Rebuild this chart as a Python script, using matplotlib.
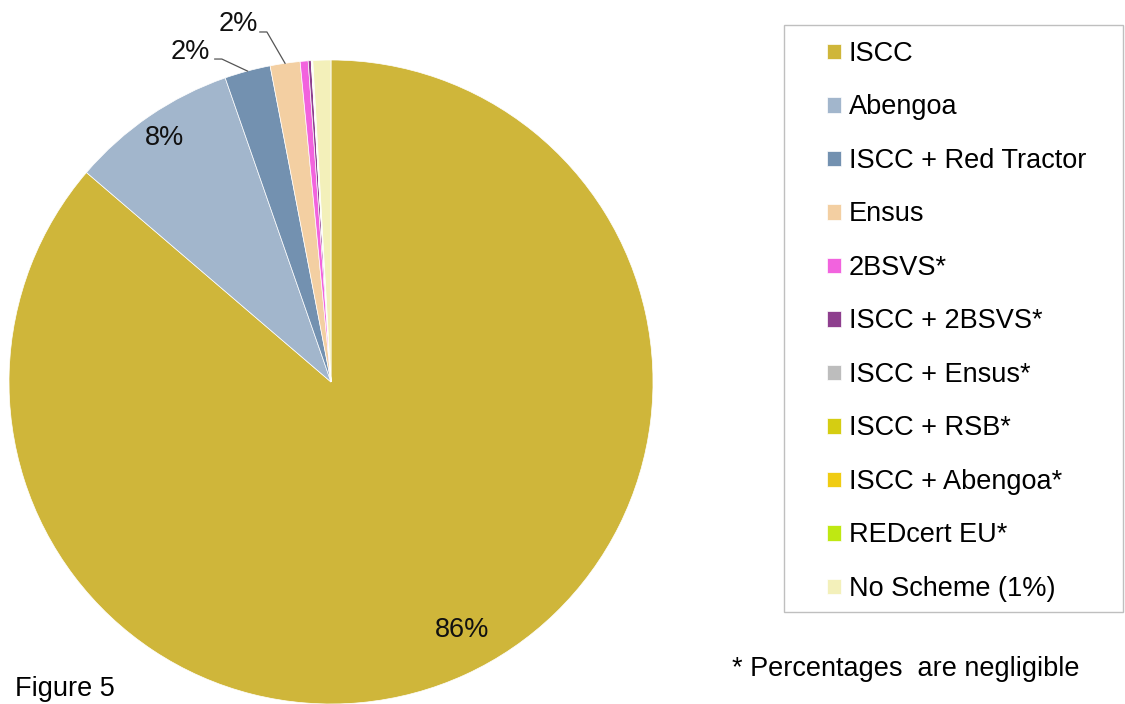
import numpy as np
import matplotlib
matplotlib.use('Agg')
import matplotlib.pyplot as plt
from matplotlib.patches import Rectangle

plt.rcParams['font.family'] = ['Liberation Sans', 'DejaVu Sans']

# 数据
schemes = ['ISCC', 'Abengoa', 'ISCC + Red Tractor', 'Ensus', '2BSVS*',
           'ISCC + 2BSVS*', 'ISCC + Ensus*', 'ISCC + RSB*', 'ISCC + Abengoa*',
           'REDcert EU*', 'No Scheme (1%)']
shares = [86.3, 8.4, 2.3, 1.5, 0.4, 0.15, 0.02, 0.02, 0.02, 0.02, 0.9]
colors = ['#CFB63A', '#A2B6CC', '#7391B0', '#F3CFA2', '#F263DE', '#8E3F8E',
          '#BDBDBD', '#D5CD12', '#F0CC12', '#BFE812', '#F3F0BA']
pct_labels = ['86%', '8%', '2%', '2%']

W, H = 1125, 704
fig = plt.figure(figsize=(W / 100, H / 100), dpi=100)

# 饼图所在坐标轴：圆心 (331, 382)，半径 322 像素
cx, cy, r = 331, 382, 322
ax = fig.add_axes([(cx - r) / W, (H - cy - r) / H, 2 * r / W, 2 * r / H])
wedges, _ = ax.pie(shares, colors=colors, startangle=90, counterclock=False,
                   radius=1, wedgeprops=dict(edgecolor='white', linewidth=0.5))
ax.set_xlim(-1, 1)
ax.set_ylim(-1, 1)
ax.set_aspect('equal')
ax.axis('off')

fs = 19.5


def mid_angle(w):
    return np.deg2rad((w.theta1 + w.theta2) / 2)


# 大块的百分比标签（放在扇区内部）
for lab, (tx, ty) in zip(pct_labels[:2], [(0.407, -0.770), (-0.516, 0.758)]):
    ax.text(tx, ty, lab, ha='center', va='center', fontsize=fs, color='#111111')

# 小块的百分比标签，带引线
for w, lab, (tx, ty), (ex, ey) in zip(wedges[2:4], pct_labels[2:4],
                                      [(-0.438, 1.025), (-0.289, 1.112)],
                                      [(-0.339, 1.003), (-0.199, 1.087)]):
    a = mid_angle(w)
    px, py = np.cos(a), np.sin(a)
    ax.plot([ex - 0.022, ex, px], [ey, ey, py], color='#555555', lw=0.9, clip_on=False)
    ax.text(tx, ty, lab, ha='center', va='center', fontsize=fs, color='#111111',
            clip_on=False)

# 图例框
fig.patches.append(Rectangle((784 / W, 1 - 612 / H), (1123 - 784) / W, (612 - 25) / H,
                             transform=fig.transFigure, facecolor='none',
                             edgecolor='#BFBFBF', lw=1.0))
fig.legend(wedges, schemes, loc='upper left', bbox_to_anchor=(827 / W, 1 - 41 / H),
           frameon=False, fontsize=fs, borderpad=0, borderaxespad=0,
           handlelength=0.5, handleheight=0.5, handletextpad=0.3,
           labelspacing=1.015)

fig.text(15 / W, 1 - 689 / H, 'Figure 5', fontsize=fs, ha='left', va='center')
fig.text(732 / W, 1 - 669 / H, '* Percentages  are negligible', fontsize=fs,
         ha='left', va='center')

plt.savefig('out.png', dpi=100)
